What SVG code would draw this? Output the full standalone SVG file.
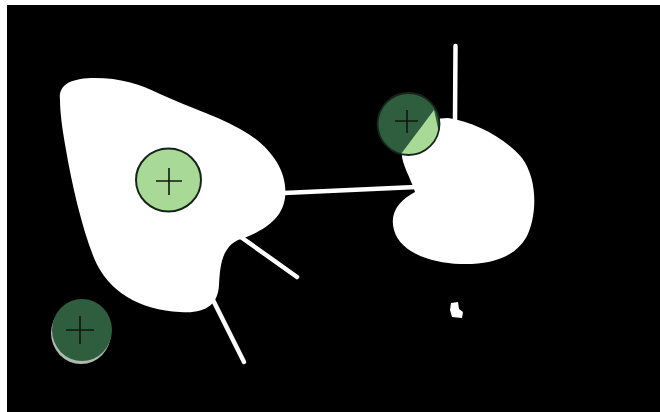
<svg xmlns="http://www.w3.org/2000/svg" width="660" height="412" viewBox="0 0 660 412">
<style>
.blob{fill:#ffffff}
.conn{stroke:#ffffff;stroke-width:4.5;stroke-linecap:round;fill:none}
.light{fill:#a9d996;stroke:#16241a;stroke-width:2}
.dark{fill:#2f5e3e}
.cross{stroke:#10180f;stroke-width:1.6;fill:none}
</style>
<defs>
<clipPath id="topclip"><ellipse cx="408.5" cy="124" rx="31" ry="31"/></clipPath>
</defs>
<rect x="0" y="0" width="660" height="412" fill="#ffffff"/>
<rect x="7" y="5" width="653" height="407" fill="#000000"/>
<g id="connectors">
<line class="conn" x1="284" y1="193" x2="416" y2="187"/>
<line class="conn" x1="238" y1="235" x2="297" y2="277"/>
<line class="conn" x1="212" y1="298" x2="244" y2="362"/>
<line class="conn" x1="455.5" y1="46" x2="455" y2="120"/>
</g>
<g id="blob-left">
<path class="blob" d="M 60 100 C 58 84, 72 78, 95 78 C 120 78, 140 84, 160 94 C 190 108, 225 118, 250 135 C 275 152, 288 175, 285 198 C 282 220, 262 232, 238 240 C 222 248, 220 265, 219 285 C 218 305, 205 314, 180 312 C 140 310, 108 292, 94 258 C 82 228, 72 185, 66 150 C 62 128, 60 112, 60 100 Z"/>
</g>
<g id="blob-right">
<path class="blob" d="M 448 118 C 475 122, 505 138, 522 158 C 538 180, 537 215, 527 236 C 515 258, 490 265, 460 264 C 430 263, 400 252, 394 230 C 389 212, 400 200, 415 192 C 410 176, 400 162, 402 150 C 408 130, 428 118, 448 118 Z"/>
</g>
<g id="blob-small">
<path class="blob" d="M 451 303 L 458 302 L 459 309 L 463 312 L 462 318 L 452 317 L 450 310 Z"/>
</g>
<g id="node-center">
<ellipse class="light" cx="168.5" cy="180" rx="32.5" ry="31.5"/>
<path class="cross" d="M 156 181 H 182 M 169 168 V 195"/>
</g>
<g id="node-top">
<ellipse cx="408.5" cy="124" rx="31" ry="31" fill="#2f5e3e"/>
<polygon points="398,158 434,110 445,160" fill="#a9d996" clip-path="url(#topclip)"/>
<ellipse cx="408.5" cy="124" rx="31" ry="31" fill="none" stroke="#16241a" stroke-width="1.8"/>
<path class="cross" d="M 395 121 H 418 M 407 110 V 133"/>
</g>
<g id="node-bottom">
<ellipse cx="82" cy="331" rx="30" ry="31" fill="#d8e8d8" opacity="0.8" transform="translate(-1,2)"/>
<ellipse class="dark" cx="82" cy="330" rx="30" ry="31"/>
<path class="cross" d="M 66 330 H 94 M 80 316 V 344"/>
</g>
</svg>
